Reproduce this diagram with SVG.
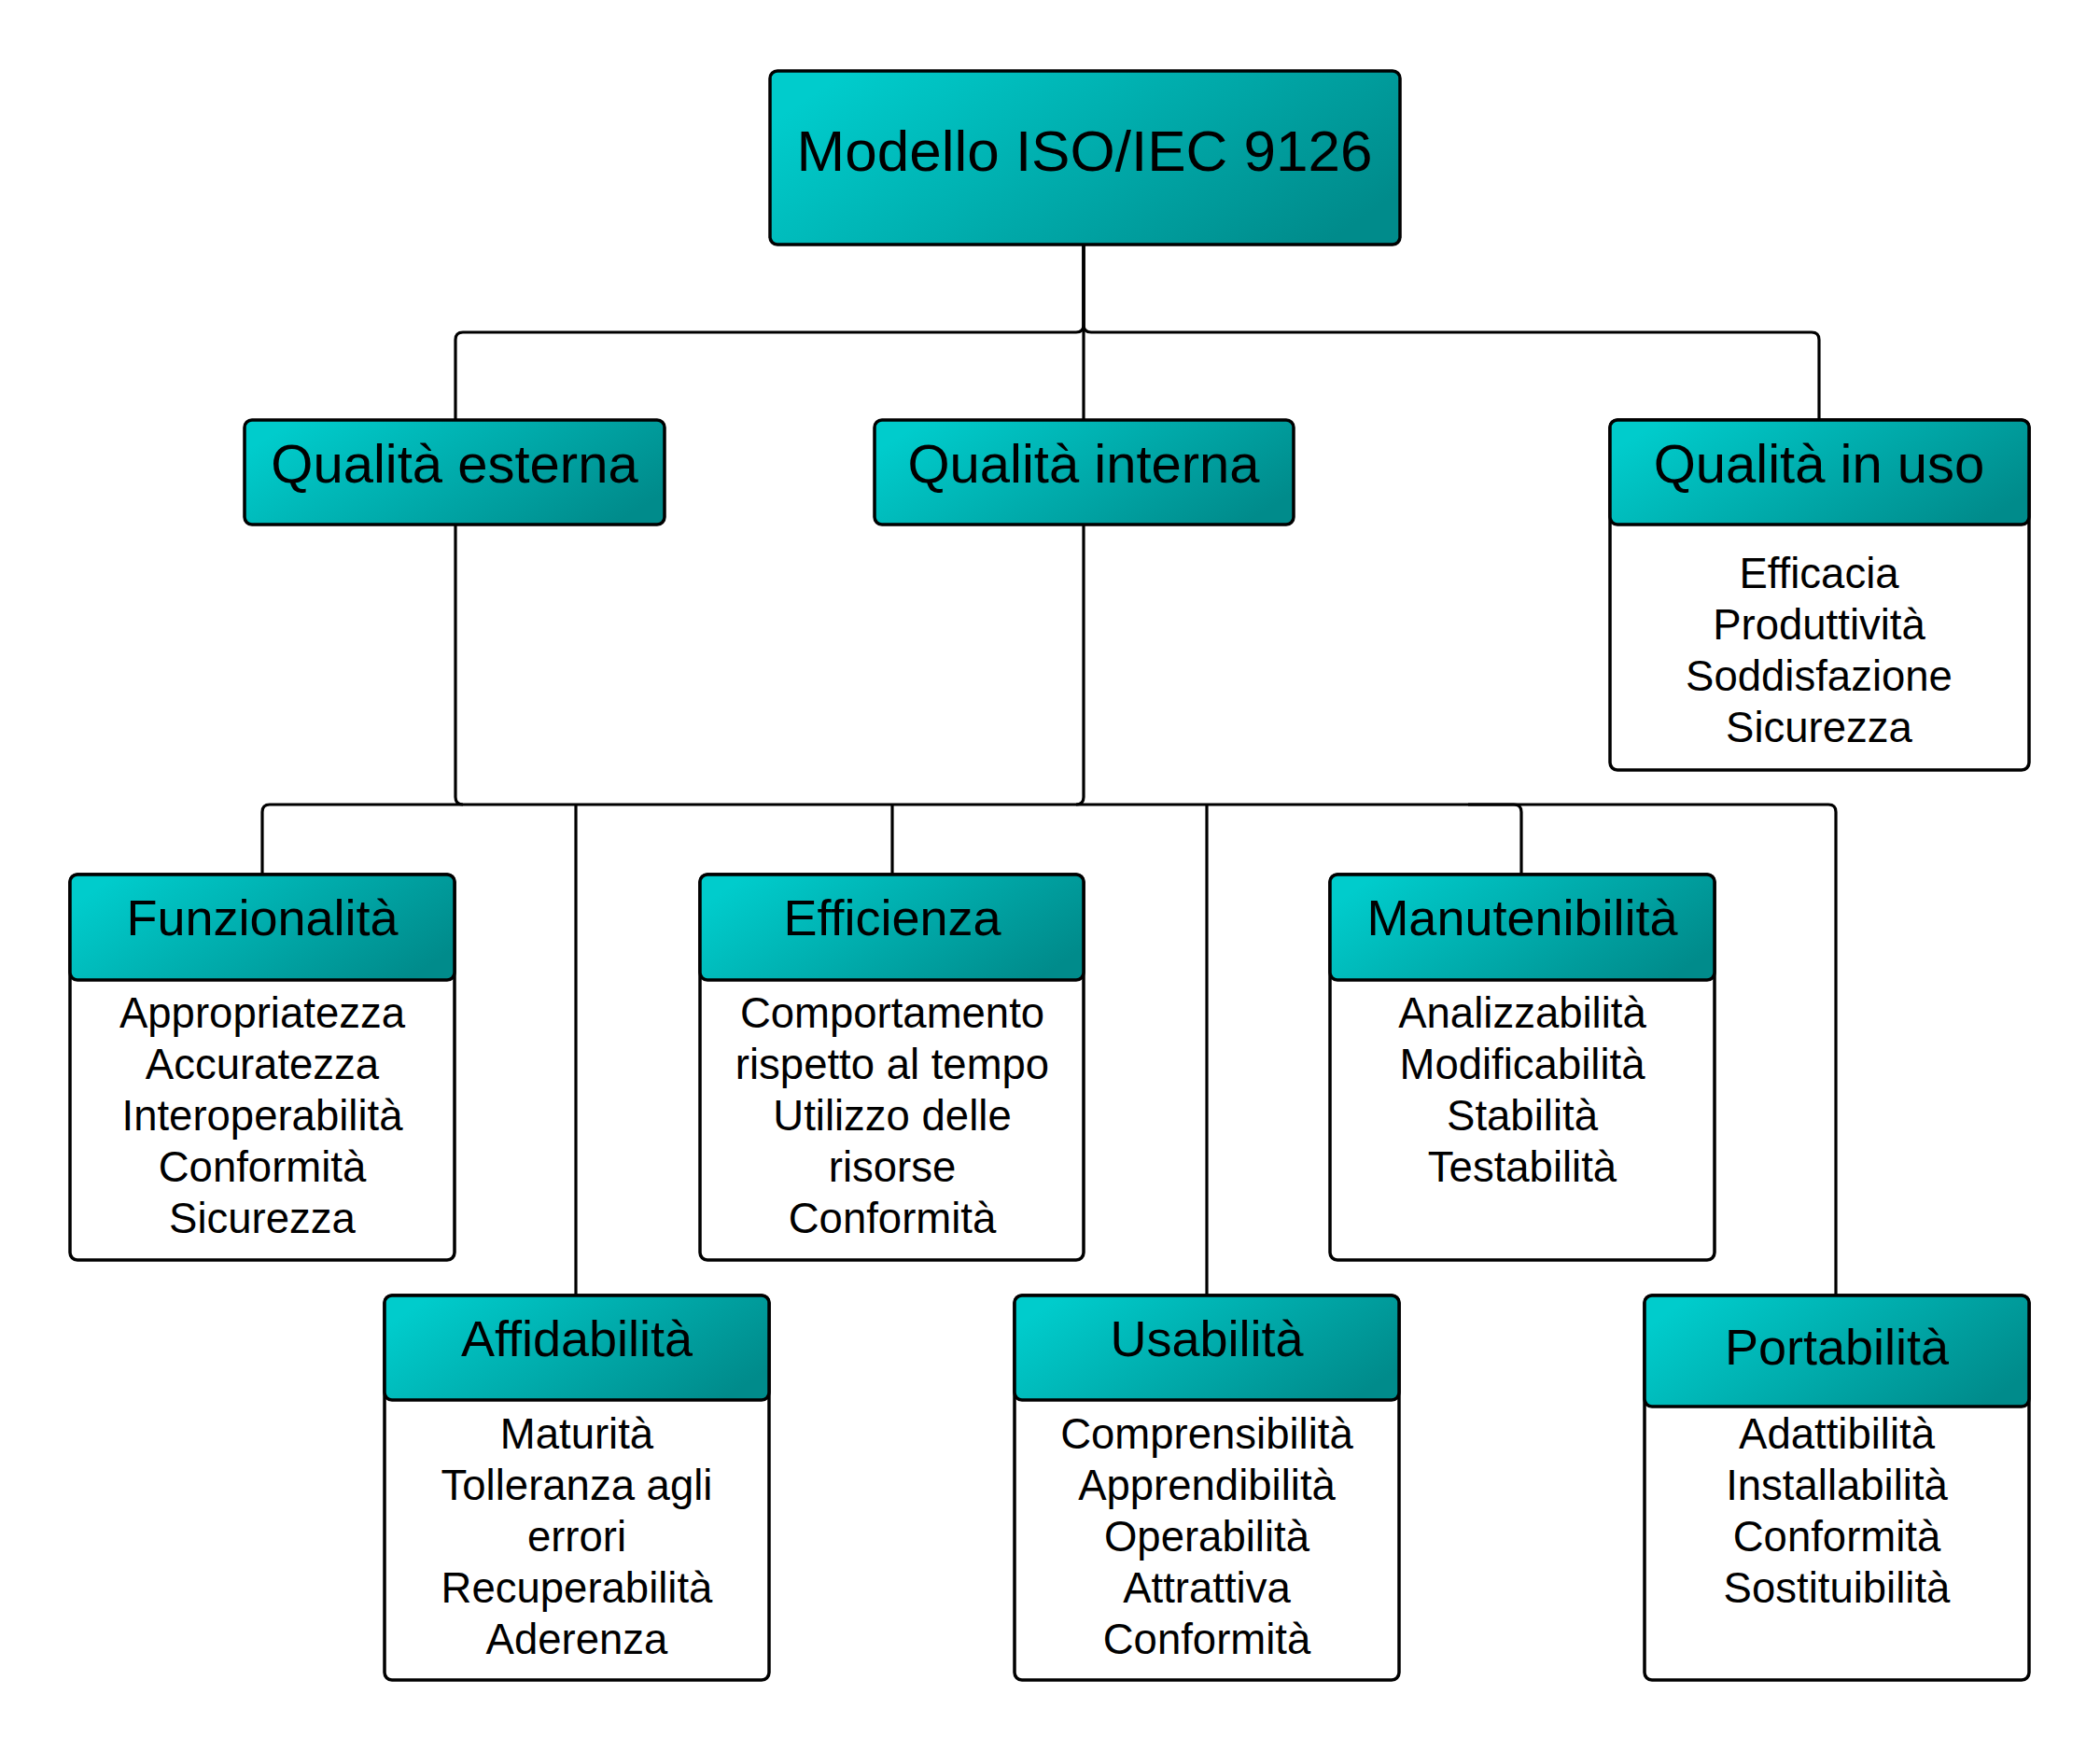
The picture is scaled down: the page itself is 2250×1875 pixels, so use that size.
<svg xmlns="http://www.w3.org/2000/svg" width="2250" height="1875" viewBox="0 0 2250 1875">
<defs>
<linearGradient id="g" x1="0" y1="0.3" x2="1" y2="0.7">
<stop offset="0" stop-color="#00CCCC"/>
<stop offset="1" stop-color="#008B8B"/>
</linearGradient>
<style>
.hd{fill:url(#g);stroke:#000;stroke-width:3.5}
.bd{fill:#fff;stroke:#000;stroke-width:3.5}
.ln{fill:none;stroke:#000;stroke-width:3.2}
text{font-family:"Liberation Sans",Arial,sans-serif;fill:#000;text-anchor:middle}
.t0{font-size:62px}
.t1{font-size:58px}
.t2{font-size:54px}
.tb{font-size:45.5px}
</style>
</defs>
<rect width="2250" height="1875" fill="#fff"/>
<g id="connectors">
<path class="ln" d="M1161 261 V348 Q1161 356 1153 356 H496 Q488 356 488 364 V449"/>
<path class="ln" d="M1161 261 V449"/>
<path class="ln" d="M1161 261 V348 Q1161 356 1169 356 H1941 Q1949 356 1949 364 V449"/>
<path class="ln" d="M488 562 V854 Q488 862 496 862 H1153 Q1161 862 1161 854 V562"/>
<path class="ln" d="M281 937 V870 Q281 862 289 862 H496"/>
<path class="ln" d="M617 1388 V862"/>
<path class="ln" d="M956 937 V862"/>
<path class="ln" d="M1293 1388 V862"/>
<path class="ln" d="M1153 862 H1622 Q1630 862 1630 870 V937"/>
<path class="ln" d="M1573 862 H1959 Q1967 862 1967 870 V1388"/>
</g>
<g id="root">
<rect class="hd" x="825" y="76" width="675" height="186" rx="8"/>
<text class="t0" x="1162" y="183">Modello ISO/IEC 9126</text>
</g>
<g id="qualita-esterna">
<rect class="hd" x="262" y="450" width="450" height="112" rx="8"/>
<text class="t1" x="487" y="517">Qualità esterna</text>
</g>
<g id="qualita-interna">
<rect class="hd" x="937" y="450" width="449" height="112" rx="8"/>
<text class="t1" x="1161" y="517">Qualità interna</text>
</g>
<g id="qualita-in-uso">
<rect class="bd" x="1725" y="450" width="449" height="375" rx="8"/>
<rect class="hd" x="1725" y="450" width="449" height="112" rx="8"/>
<text class="t1" x="1949" y="517">Qualità in uso</text>
<text class="tb" x="1949" y="630">Efficacia</text>
<text class="tb" x="1949" y="685">Produttività</text>
<text class="tb" x="1949" y="740">Soddisfazione</text>
<text class="tb" x="1949" y="795">Sicurezza</text>
</g>
<g id="funzionalita">
<rect class="bd" x="75" y="937" width="412" height="413" rx="8"/>
<rect class="hd" x="75" y="937" width="412" height="113" rx="8"/>
<text class="t2" x="281" y="1002">Funzionalità</text>
<text class="tb" x="281" y="1101">Appropriatezza</text>
<text class="tb" x="281" y="1156">Accuratezza</text>
<text class="tb" x="281" y="1211">Interoperabilità</text>
<text class="tb" x="281" y="1266">Conformità</text>
<text class="tb" x="281" y="1321">Sicurezza</text>
</g>
<g id="efficienza">
<rect class="bd" x="750" y="937" width="411" height="413" rx="8"/>
<rect class="hd" x="750" y="937" width="411" height="113" rx="8"/>
<text class="t2" x="956" y="1002">Efficienza</text>
<text class="tb" x="956" y="1101">Comportamento</text>
<text class="tb" x="956" y="1156">rispetto al tempo</text>
<text class="tb" x="956" y="1211">Utilizzo delle</text>
<text class="tb" x="956" y="1266">risorse</text>
<text class="tb" x="956" y="1321">Conformità</text>
</g>
<g id="manutenibilita">
<rect class="bd" x="1425" y="937" width="412" height="413" rx="8"/>
<rect class="hd" x="1425" y="937" width="412" height="113" rx="8"/>
<text class="t2" x="1631" y="1002">Manutenibilità</text>
<text class="tb" x="1631" y="1101">Analizzabilità</text>
<text class="tb" x="1631" y="1156">Modificabilità</text>
<text class="tb" x="1631" y="1211">Stabilità</text>
<text class="tb" x="1631" y="1266">Testabilità</text>
</g>
<g id="affidabilita">
<rect class="bd" x="412" y="1388" width="412" height="412" rx="8"/>
<rect class="hd" x="412" y="1388" width="412" height="112" rx="8"/>
<text class="t2" x="618" y="1453">Affidabilità</text>
<text class="tb" x="618" y="1552">Maturità</text>
<text class="tb" x="618" y="1607">Tolleranza agli</text>
<text class="tb" x="618" y="1662">errori</text>
<text class="tb" x="618" y="1717">Recuperabilità</text>
<text class="tb" x="618" y="1772">Aderenza</text>
</g>
<g id="usabilita">
<rect class="bd" x="1087" y="1388" width="412" height="412" rx="8"/>
<rect class="hd" x="1087" y="1388" width="412" height="112" rx="8"/>
<text class="t2" x="1293" y="1453">Usabilità</text>
<text class="tb" x="1293" y="1552">Comprensibilità</text>
<text class="tb" x="1293" y="1607">Apprendibilità</text>
<text class="tb" x="1293" y="1662">Operabilità</text>
<text class="tb" x="1293" y="1717">Attrattiva</text>
<text class="tb" x="1293" y="1772">Conformità</text>
</g>
<g id="portabilita">
<rect class="bd" x="1762" y="1388" width="412" height="412" rx="8"/>
<rect class="hd" x="1762" y="1388" width="412" height="119" rx="8"/>
<text class="t2" x="1968" y="1462">Portabilità</text>
<text class="tb" x="1968" y="1552">Adattibilità</text>
<text class="tb" x="1968" y="1607">Installabilità</text>
<text class="tb" x="1968" y="1662">Conformità</text>
<text class="tb" x="1968" y="1717">Sostituibilità</text>
</g>
</svg>
